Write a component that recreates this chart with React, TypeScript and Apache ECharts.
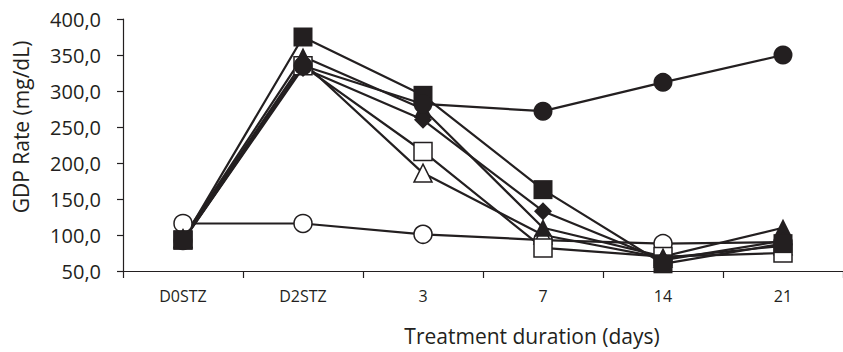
import React, { useEffect, useRef } from "react";
import * as echarts from "echarts";

const categories = ["D0STZ", "D2STZ", "3", "7", "14", "21"];
const filledCircle = [92, 335, 282, 272, 312, 350];
const openCircle = [116, 116, 101, 93, 88, 90];
const filledSquare = [93, 375, 294, 163, 60, 88];
const openSquare = [93, 335, 216, 82, 70, 75];
const filledDiamond = [92, 332, 260, 133, 65, 92];
const openTriangle = [95, 340, 186, 100, 68, 85];
const filledTriangle = [96, 348, 275, 110, 70, 110];

const yTitle = "GDP Rate (mg/dL)";
const xTitle = "Treatment duration (days)";

const INK = "#231f20";
const FONT = "Open Sans";

export default function App() {
  const ref = useRef<HTMLDivElement>(null);
  useEffect(() => {
    const chart = echarts.init(ref.current!, null, { renderer: "svg" });
    const mk = (data: number[], symbol: string, filled: boolean, size: number) => ({
      type: "line",
      data,
      symbol,
      symbolSize: size,
      showAllSymbol: true,
      lineStyle: { color: INK, width: 2.2 },
      itemStyle: {
        color: filled ? INK : "#ffffff",
        borderColor: INK,
        borderWidth: filled ? 0 : 1.5,
      },
    });
    chart.setOption({
      animation: false,
      grid: { left: 123, right: -6, top: 19, bottom: 81 },
      xAxis: {
        type: "category",
        data: categories,
        boundaryGap: true,
        axisLine: { lineStyle: { color: INK, width: 1.2 } },
        axisTick: { show: true, length: 7, lineStyle: { color: INK, width: 1.2 } },
        axisLabel: { color: INK, fontFamily: FONT, fontSize: 16, margin: 17 },
      },
      yAxis: {
        type: "value",
        min: 50,
        max: 400,
        interval: 50,
        splitLine: { show: false },
        axisLine: { show: true, lineStyle: { color: INK, width: 1.2 } },
        axisTick: { show: true, length: 6, lineStyle: { color: INK, width: 1.2 } },
        axisLabel: {
          color: INK,
          fontFamily: FONT,
          fontSize: 20,
          margin: 22,
          formatter: (v: number) => v.toFixed(1).replace(".", ","),
        },
      },
      graphic: [
        {
          type: "text",
          x: 21,
          y: 127,
          rotation: Math.PI / 2,
          style: {
            text: yTitle,
            fill: INK,
            font: `21px "${FONT}"`,
            textAlign: "center",
            textVerticalAlign: "middle",
          },
        },
        {
          type: "text",
          x: 532,
          y: 336,
          style: {
            text: xTitle,
            fill: INK,
            font: `21px "${FONT}"`,
            textAlign: "center",
            textVerticalAlign: "middle",
          },
        },
      ],
      series: [
        mk(openCircle, "circle", false, 18),
        mk(openTriangle, "triangle", false, 18),
        mk(openSquare, "rect", false, 18),
        mk(filledTriangle, "triangle", true, 18),
        mk(filledDiamond, "diamond", true, 18),
        mk(filledSquare, "rect", true, 19),
        mk(filledCircle, "circle", true, 19),
      ],
    });
    return () => chart.dispose();
  }, []);
  return (
    <div
      ref={ref}
      style={{ position: "fixed", left: 0, top: 0, width: 843, height: 352, background: "#fff" }}
    />
  );
}
